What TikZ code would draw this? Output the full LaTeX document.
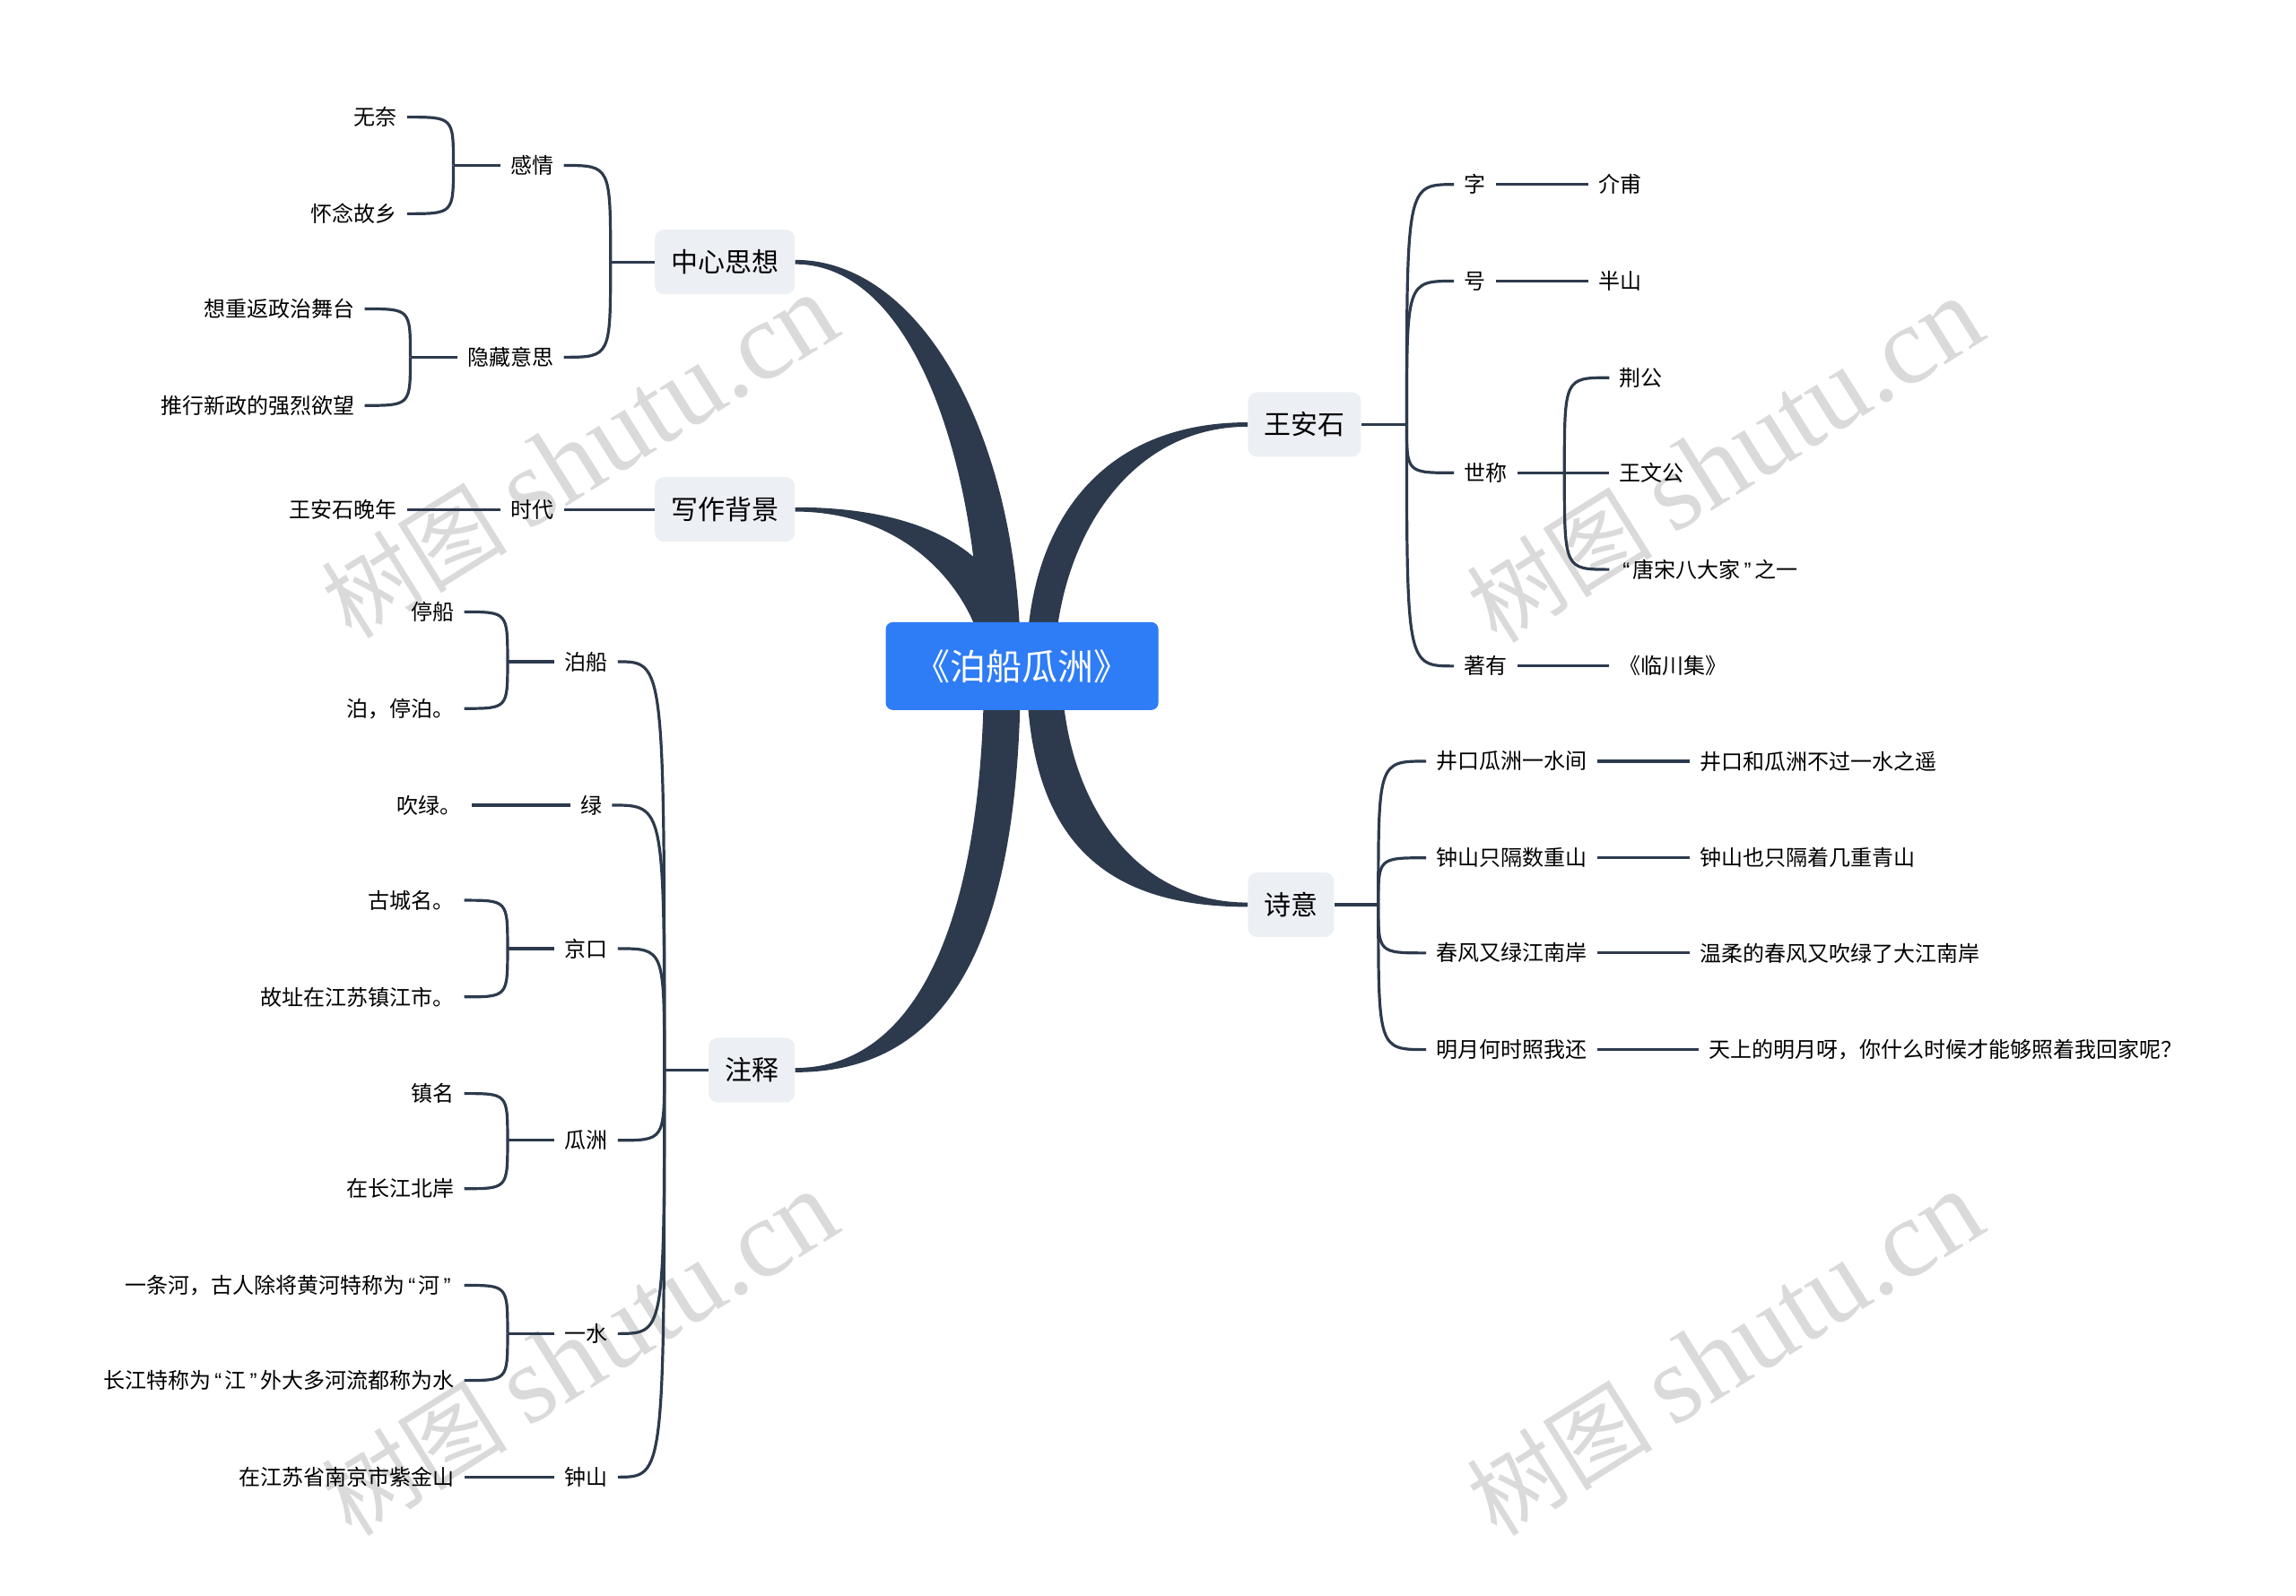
\documentclass[tikz,border=0pt]{standalone}
\usepackage{fontspec}
\setmainfont{Noto Sans CJK SC}
\newfontfamily\wmfont{Liberation Serif}
\newfontfamily\qfont{Liberation Sans}
\newcommand{\oq}{{\kern1.8pt\qfont “\kern1.8pt}}
\newcommand{\cq}{{\kern1.8pt\qfont ”\kern1.8pt}}
\usetikzlibrary{positioning}
\definecolor{linecol}{HTML}{2D3A4D}
\definecolor{rootfill}{HTML}{2E7CF6}
\definecolor{topicfill}{HTML}{ECEFF4}
\definecolor{wmgray}{HTML}{DADADA}
\tikzset{
  root/.style={fill=rootfill, rounded corners=4pt, text=white, minimum width=152pt, minimum height=49pt, font=\fontsize{20}{24}\selectfont},
  topic/.style={fill=topicfill, rounded corners=5pt, minimum height=36pt, inner xsep=9pt, font=\fontsize{15}{18}\selectfont},
  leaf/.style={inner xsep=5.5pt, inner ysep=2pt, font=\fontsize{12}{14}\selectfont},
  trunk/.style={fill=linecol},
  twig/.style={draw=linecol, line width=1.6pt},
  wmark/.style={text=wmgray, rotate=32, font=\fontsize{52}{56}\selectfont}
}

\begin{document}
\begin{tikzpicture}[x=0.8163pt, y=-0.8163pt]
  \useasboundingbox (0,0) rectangle (1568,1090);

  % watermark
  \node[wmark] (wm1) at (396,312) {树图 {\wmfont\fontsize{62}{66}\selectfont shutu.cn}};
  \node[wmark] (wm2) at (1178,315) {树图 {\wmfont\fontsize{62}{66}\selectfont shutu.cn}};
  \node[wmark] (wm3) at (396,925) {树图 {\wmfont\fontsize{62}{66}\selectfont shutu.cn}};
  \node[wmark] (wm4) at (1178,925) {树图 {\wmfont\fontsize{62}{66}\selectfont shutu.cn}};

  % main topics
  \node[topic, anchor=east] (zx) at (543,179) {中心思想};
  \node[topic, anchor=east] (bj) at (543,348) {写作背景};
  \node[topic, anchor=east] (zs) at (543,731) {注释};
  \node[topic, anchor=west] (was) at (852,290) {王安石};
  \node[topic, anchor=west] (sy) at (852,618) {诗意};

  % trunks to the root
  \fill[trunk] ([yshift=1.2pt]zx.east) .. controls (630,177.5) and (697,300) .. (697,455)
    -- (669,455) .. controls (670,330) and (628,180.5) .. ([yshift=-1.2pt]zx.east) -- cycle;
  \fill[trunk] ([yshift=1.2pt]bj.east) .. controls (635,346.5) and (697,380) .. (697,455)
    -- (673,455) .. controls (668,410) and (625,349.5) .. ([yshift=-1.2pt]bj.east) -- cycle;
  \fill[trunk] ([yshift=1.2pt]zs.east) .. controls (630,729.5) and (672,620) .. (672,455)
    -- (697,455) .. controls (697,640) and (650,732.5) .. ([yshift=-1.2pt]zs.east) -- cycle;
  \fill[trunk] ([yshift=1.2pt]was.west) .. controls (750,288.5) and (701,360) .. (701,455)
    -- (720,455) .. controls (722,370) and (770,291.5) .. ([yshift=-1.2pt]was.west) -- cycle;
  \fill[trunk] ([yshift=1.2pt]sy.west) .. controls (770,616.5) and (725,540) .. (725,455)
    -- (701,455) .. controls (701,570) and (750,619.5) .. ([yshift=-1.2pt]sy.west) -- cycle;

  \node[root] (root) at (698,455) {《泊船瓜洲》};

  % 中心思想
  \node[leaf, anchor=east] (gq) at (385,113) {感情};
  \node[leaf, anchor=east] (yc) at (385,244) {隐藏意思};
  \node[leaf, anchor=east] (wn) at (278,80) {无奈};
  \node[leaf, anchor=east] (hx) at (278,146) {怀念故乡};
  \node[leaf, anchor=east] (cf) at (249,211) {想重返政治舞台};
  \node[leaf, anchor=east] (tx) at (249,277) {推行新政的强烈欲望};
  \draw[twig] (zx.west) -- ++(-30,0) coordinate (zxj);
  \draw[twig] (zxj) .. controls (zxj |- gq.east) .. (gq.east);
  \draw[twig] (zxj) .. controls (zxj |- yc.east) .. (yc.east);
  \draw[twig] (gq.west) -- ++(-32,0) coordinate (gqj);
  \draw[twig] (gqj) .. controls (gqj |- wn.east) .. (wn.east);
  \draw[twig] (gqj) .. controls (gqj |- hx.east) .. (hx.east);
  \draw[twig] (yc.west) -- ++(-32,0) coordinate (ycj);
  \draw[twig] (ycj) .. controls (ycj |- cf.east) .. (cf.east);
  \draw[twig] (ycj) .. controls (ycj |- tx.east) .. (tx.east);

  % 写作背景
  \node[leaf, anchor=east] (sd) at (385,348) {时代};
  \node[leaf, anchor=east] (wnn) at (278,348) {王安石晚年};
  \draw[twig] (bj.west) -- (sd.east);
  \draw[twig] (sd.west) -- (wnn.east);

  % 注释
  \node[leaf, anchor=east] (bc) at (422,452) {泊船};
  \node[leaf, anchor=east] (lv) at (418,550) {绿};
  \node[leaf, anchor=east] (jk) at (422,648) {京口};
  \node[leaf, anchor=east] (gz) at (422,779) {瓜洲};
  \node[leaf, anchor=east] (ys) at (422,911) {一水};
  \node[leaf, anchor=east] (zsh) at (422,1009) {钟山};
  \node[leaf, anchor=east] (tc) at (317,418) {停船};
  \node[leaf, anchor=east] (tb) at (317,484) {泊，停泊。};
  \node[leaf, anchor=east] (cl) at (322,550) {吹绿。};
  \node[leaf, anchor=east] (gc) at (317,615) {古城名。};
  \node[leaf, anchor=east] (gzz) at (317,681) {故址在江苏镇江市。};
  \node[leaf, anchor=east] (zm) at (317,747) {镇名};
  \node[leaf, anchor=east] (zb) at (317,812) {在长江北岸};
  \node[leaf, anchor=east] (yt) at (317,878) {一条河，古人除将黄河特称为\oq 河\cq};
  \node[leaf, anchor=east] (cj) at (317,943) {长江特称为\oq 江\cq 外大多河流都称为水};
  \node[leaf, anchor=east] (zj) at (317,1009) {在江苏省南京市紫金山};
  \draw[twig] (zs.west) -- ++(-30,0) coordinate (zsj);
  \draw[twig] (zsj) .. controls (zsj |- bc.east) .. (bc.east);
  \draw[twig] (zsj) .. controls (zsj |- lv.east) .. (lv.east);
  \draw[twig] (zsj) .. controls (zsj |- jk.east) .. (jk.east);
  \draw[twig] (zsj) .. controls (zsj |- gz.east) .. (gz.east);
  \draw[twig] (zsj) .. controls (zsj |- ys.east) .. (ys.east);
  \draw[twig] (zsj) .. controls (zsj |- zsh.east) .. (zsh.east);
  \draw[twig] (bc.west) -- ++(-32,0) coordinate (bcj);
  \draw[twig] (bcj) .. controls (bcj |- tc.east) .. (tc.east);
  \draw[twig] (bcj) .. controls (bcj |- tb.east) .. (tb.east);
  \draw[twig] (lv.west) -- (cl.east);
  \draw[twig] (jk.west) -- ++(-32,0) coordinate (jkj);
  \draw[twig] (jkj) .. controls (jkj |- gc.east) .. (gc.east);
  \draw[twig] (jkj) .. controls (jkj |- gzz.east) .. (gzz.east);
  \draw[twig] (gz.west) -- ++(-32,0) coordinate (gzj);
  \draw[twig] (gzj) .. controls (gzj |- zm.east) .. (zm.east);
  \draw[twig] (gzj) .. controls (gzj |- zb.east) .. (zb.east);
  \draw[twig] (ys.west) -- ++(-32,0) coordinate (ysj);
  \draw[twig] (ysj) .. controls (ysj |- yt.east) .. (yt.east);
  \draw[twig] (ysj) .. controls (ysj |- cj.east) .. (cj.east);
  \draw[twig] (zsh.west) -- (zj.east);

  % 王安石
  \node[leaf, anchor=west] (zi) at (993,126) {字};
  \node[leaf, anchor=west] (hao) at (993,192) {号};
  \node[leaf, anchor=west] (sc) at (993,323) {世称};
  \node[leaf, anchor=west] (zy) at (993,455) {著有};
  \node[leaf, anchor=west] (jf) at (1085,126) {介甫};
  \node[leaf, anchor=west] (bs) at (1085,192) {半山};
  \node[leaf, anchor=west] (jg) at (1099,258) {荆公};
  \node[leaf, anchor=west] (wwg) at (1099,323) {王文公};
  \node[leaf, anchor=west] (ts) at (1099,389) {\oq 唐宋八大家\cq 之一};
  \node[leaf, anchor=west] (lc) at (1099,455) {《临川集》};
  \draw[twig] (was.east) -- ++(31,0) coordinate (wasj);
  \draw[twig] (wasj) .. controls (wasj |- zi.west) .. (zi.west);
  \draw[twig] (wasj) .. controls (wasj |- hao.west) .. (hao.west);
  \draw[twig] (wasj) .. controls (wasj |- sc.west) .. (sc.west);
  \draw[twig] (wasj) .. controls (wasj |- zy.west) .. (zy.west);
  \draw[twig] (zi.east) -- (jf.west);
  \draw[twig] (hao.east) -- (bs.west);
  \draw[twig] (sc.east) -- (wwg.west);
  \path (sc.east) ++(32,0) coordinate (scj);
  \draw[twig] (scj) .. controls (scj |- jg.west) .. (jg.west);
  \draw[twig] (scj) .. controls (scj |- ts.west) .. (ts.west);
  \draw[twig] (zy.east) -- (lc.west);

  % 诗意
  \node[leaf, anchor=west] (p1) at (974,520) {井口瓜洲一水间};
  \node[leaf, anchor=west] (p2) at (974,586) {钟山只隔数重山};
  \node[leaf, anchor=west] (p3) at (974,651) {春风又绿江南岸};
  \node[leaf, anchor=west] (p4) at (974,717) {明月何时照我还};
  \node[leaf, anchor=west] (m1) at (1154,520) {井口和瓜洲不过一水之遥};
  \node[leaf, anchor=west] (m2) at (1154,586) {钟山也只隔着几重青山};
  \node[leaf, anchor=west] (m3) at (1154,651) {温柔的春风又吹绿了大江南岸};
  \node[leaf, anchor=west] (m4) at (1160,717) {天上的明月呀，你什么时候才能够照着我回家呢？};
  \draw[twig] (sy.east) -- ++(30,0) coordinate (syj);
  \draw[twig] (syj) .. controls (syj |- p1.west) .. (p1.west);
  \draw[twig] (syj) .. controls (syj |- p2.west) .. (p2.west);
  \draw[twig] (syj) .. controls (syj |- p3.west) .. (p3.west);
  \draw[twig] (syj) .. controls (syj |- p4.west) .. (p4.west);
  \draw[twig] (p1.east) -- (m1.west);
  \draw[twig] (p2.east) -- (m2.west);
  \draw[twig] (p3.east) -- (m3.west);
  \draw[twig] (p4.east) -- (m4.west);
\end{tikzpicture}
\end{document}
